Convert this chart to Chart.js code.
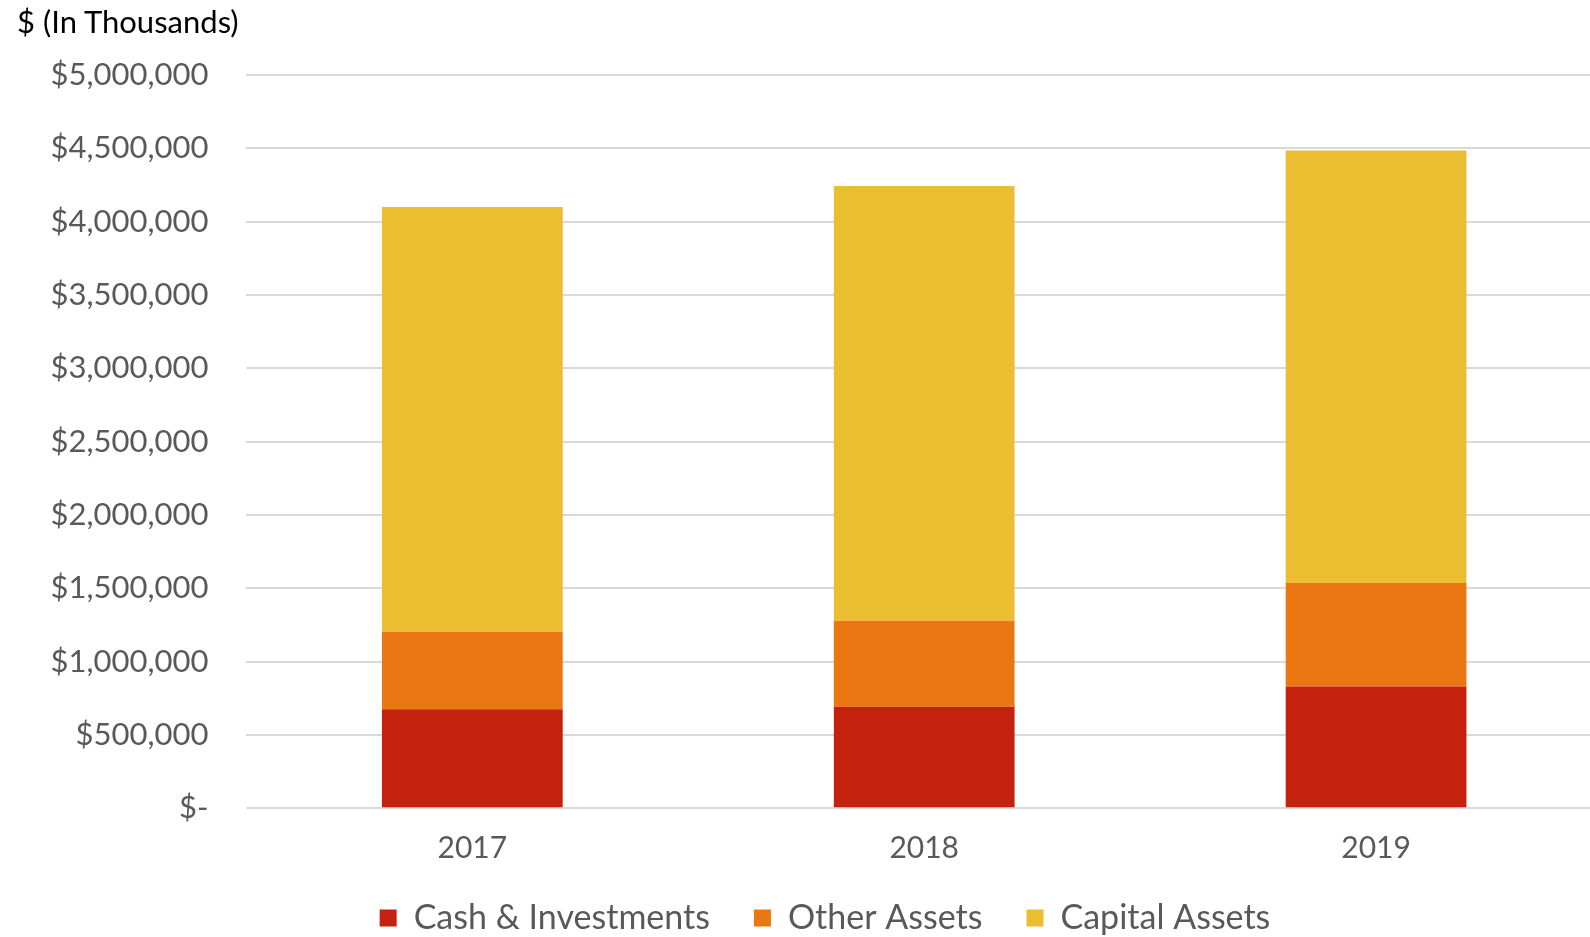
<!DOCTYPE html>
<html><head><meta charset="utf-8">
<script src="https://cdn.jsdelivr.net/npm/chart.js"></script>
<style>
html,body{margin:0;padding:0;background:#fff;overflow:hidden;width:1590px;height:937px;}
#wrap{position:relative;width:1602px;height:937px;}
#title{position:absolute;left:17px;top:6px;font-family:Lato, sans-serif;font-size:31px;line-height:1;color:#000;white-space:nowrap;}
canvas{position:absolute;left:0;top:0;}
</style></head><body>
<div id="wrap"><canvas id="c" width="1602" height="937" style="width:1602px;height:937px;"></canvas><div id="title">$ (In Thousands)</div></div>
<script>
const categories = ['2017', '2018', '2019'];
const cashInvestments = [675000, 693000, 830000];
const otherAssets = [529000, 586000, 706000];
const capitalAssets = [2896000, 2964000, 2949000];
const seriesNames = ['Cash & Investments', 'Other Assets', 'Capital Assets'];
const yTickValues = [0, 500000, 1000000, 1500000, 2000000, 2500000, 3000000, 3500000, 4000000, 4500000, 5000000];

const FONT = 'Lato, sans-serif';
const GREY = '#595959';

new Chart(document.getElementById('c'), {
  type: 'bar',
  data: {
    labels: categories,
    datasets: [
      { label: seriesNames[0], data: cashInvestments, backgroundColor: '#C4210E' },
      { label: seriesNames[1], data: otherAssets, backgroundColor: '#EB7713' },
      { label: seriesNames[2], data: capitalAssets, backgroundColor: '#EBBD31' }
    ]
  },
  options: {
    responsive: false,
    animation: false,
    layout: { padding: { left: 48, top: 75, right: 0, bottom: 0 } },
    datasets: { bar: { barPercentage: 0.4, categoryPercentage: 1.0 } },
    plugins: {
      tooltip: { enabled: false },
      legend: {
        position: 'bottom',
        maxHeight: 80,
        labels: {
          font: { family: FONT, size: 34 },
          color: GREY,
          boxWidth: 17,
          boxHeight: 17,
          padding: 44
        }
      }
    },
    scales: {
      x: {
        stacked: true,
        grid: { display: false, drawTicks: false },
        border: { display: false },
        ticks: { font: { family: FONT, size: 30 }, color: GREY, padding: 22 },
        afterFit: (s) => {
          s.height = 48.7;
          s._computeLabelArea = () => undefined;
        }
      },
      y: {
        stacked: true,
        min: 0,
        max: 5000000,
        grid: { color: '#D9D9D9', lineWidth: 2, drawTicks: false },
        border: { display: false },
        afterBuildTicks: (s) => { s.ticks = yTickValues.map(v => ({ value: v })); },
        ticks: {
          font: { family: FONT, size: 31 },
          color: GREY,
          padding: 38,
          callback: (v) => v === 0 ? '$-' : '$' + Number(v).toLocaleString('en-US')
        },
        afterFit: (s) => { s.width = 198.4; }
      }
    }
  }
});
</script>
</body></html>
